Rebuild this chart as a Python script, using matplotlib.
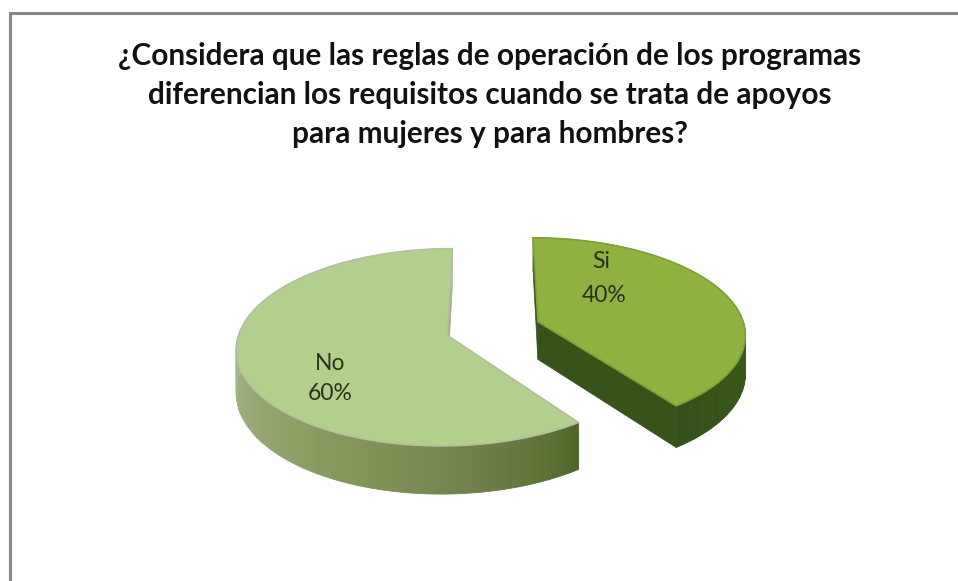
import numpy as np
import matplotlib
matplotlib.use("Agg")
import matplotlib.pyplot as plt

title_lines = ["¿Considera que las reglas de operación de los programas",
               "diferencian los requisitos cuando se trata de apoyos",
               "para mujeres y para hombres?"]
categories = ["Si", "No"]
values = [40, 60]

W, H = 958, 581
CX, CY, RX, RY, K, EXPL = 493, 328.5, 207, 95.5, 0.12, 0.23

fig = plt.figure(figsize=(W / 100, H / 100), dpi=100, facecolor="white")
ax = fig.add_axes([0, 0, 1, 1])
ax.set_xlim(0, W)
ax.set_ylim(H, 0)
ax.axis("off")


def project(X, Y, drop=0.0):
    w = 1 + K * Y
    return CX + RX * X / w, CY - RY * Y / w + drop / w


def hex2rgb(c):
    return np.array([int(c[i:i + 2], 16) / 255 for i in (1, 3, 5)])


def shade(theta, stops):
    a = [s[0] for s in stops]
    cols = np.array([hex2rgb(s[1]) for s in stops])
    return tuple(np.interp(theta, a, cols[:, i]) for i in range(3))


styles = {
    "Si": dict(top="#8eb13f", rim="#7f9f3a", face="#37531a", depth=38,
               side=[(-54, "#33501a"), (-20, "#3a5818"), (36, "#4a6a1e")]),
    "No": dict(top="#b3cf8e", rim="#b4c0a0", face="#a2b184", depth=42,
               side=[(-270, "#b6c4a4"), (-180, "#a8b78c"), (-125, "#8b9c62"),
                     (-90, "#76884f"), (-65, "#5f7339"), (-54, "#4f6628")]),
}
fractions = np.array(values) / np.sum(values)
start = 90.0
for cat, frac in zip(categories, fractions):
    st = styles[cat]
    depth = st["depth"]
    t0, t1 = start, start - 360 * frac
    start = t1
    mid = np.radians((t0 + t1) / 2)
    ox, oy = EXPL * np.cos(mid), EXPL * np.sin(mid)
    th = np.linspace(t0, t1, 181)
    X = ox + np.cos(np.radians(th))
    Y = oy + np.sin(np.radians(th))
    # radial faces
    for (ex, ey) in ((X[0], Y[0]), (X[-1], Y[-1])):
        xa, ya = project(ox, oy)
        xb, yb = project(ex, ey)
        xc, yc = project(ex, ey, depth)
        xd, yd = project(ox, oy, depth)
        ax.fill([xa, xb, xc, xd], [ya, yb, yc, yd], color=st["face"], lw=0.5, zorder=2)
    # outer wall
    for i in range(len(th) - 1):
        x0, y0 = project(X[i], Y[i])
        x1, y1 = project(X[i + 1], Y[i + 1])
        x2, y2 = project(X[i + 1], Y[i + 1], depth)
        x3, y3 = project(X[i], Y[i], depth)
        ang = (th[i] + th[i + 1]) / 2
        if cat == "Si":
            ang = np.clip(ang, -54, 36)
        ax.fill([x0, x1, x2, x3], [y0, y1, y2, y3], color=shade(ang, st["side"]),
                lw=0.6, zorder=3)
    # top surface
    tx, ty = project(np.r_[ox, X], np.r_[oy, Y])
    ax.fill(tx, ty, facecolor=st["top"], edgecolor=st["rim"], lw=1.2, zorder=4)

# data labels
label_pos = {"Si": ((601, 262), (604, 296)), "No": ((330, 363), (330, 394))}
for cat, val in zip(categories, values):
    (x1, y1), (x2, y2) = label_pos[cat]
    ax.text(x1, y1, cat, ha="center", va="center", fontsize=16.5, family="Lato",
            color="#27331c", zorder=5)
    ax.text(x2, y2, f"{val}%", ha="center", va="center", fontsize=16.5, family="Lato",
            color="#27331c", zorder=5)

# title
for yy, line in zip((56, 95, 134), title_lines):
    ax.text(489.5, yy, line, ha="center", va="center", fontsize=21.4, family="Lato",
            fontweight="bold", color="#111111", zorder=5)

# frame
ax.plot([10.5, 10.5, W], [H, 13, 13], color="#8a8a8a", lw=2.2, solid_joinstyle="miter", zorder=6)

fig.savefig("out.png", dpi=100, facecolor="white")
